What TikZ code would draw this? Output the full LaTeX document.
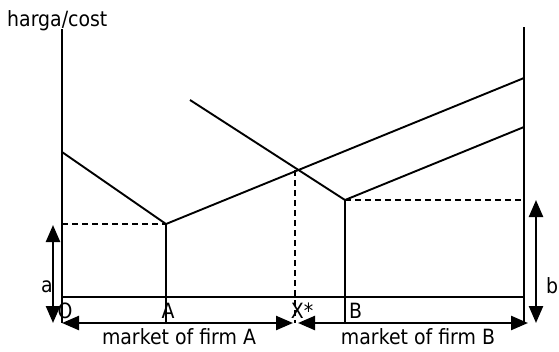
\documentclass[tikz,border=0pt]{standalone}
\usepackage{fontspec}
\setmainfont{DejaVu Sans}[FakeStretch=0.9]
\usetikzlibrary{arrows.meta}
\begin{document}
\begin{tikzpicture}[x=1pt,y=-1pt,
  ln/.style={line width=1.9pt},
  thin/.style={line width=1.5pt},
  dsh/.style={line width=1.6pt,dash pattern=on 6pt off 4pt},
  dbl/.style={line width=2.4pt,{Triangle[length=17pt,width=14pt]}-{Triangle[length=17pt,width=14pt]}},
  lbl/.style={inner sep=0pt,anchor=base,font=\fontsize{21}{24}\selectfont}]
\useasboundingbox (0,0) rectangle (559,351);
% coordinates
\coordinate (LT) at (62,29);
\coordinate (LB) at (62,323);
\coordinate (O) at (62,297);
\coordinate (RT) at (524,27);
\coordinate (RB) at (524,323);
\coordinate (R0) at (524,297);
\coordinate (As) at (62,152);
\coordinate (Ac) at (166,224);
\coordinate (Ae) at (524,78);
\coordinate (Ab) at (166,323);
\coordinate (Bs) at (190,100);
\coordinate (Bc) at (345,200);
\coordinate (Be) at (524,127);
\coordinate (Bb) at (345,323);
\coordinate (Xt) at (295,170);
\coordinate (Xb) at (295,323);
\coordinate (aL) at (62,224);
\coordinate (bR) at (524,200);
% axes
\draw[ln] (LT) -- (LB);
\draw[ln] (RT) -- (RB);
\draw[thin] (O) -- (R0);
% cost lines
\draw[ln] (As) -- (Ac) -- (Ae);
\draw[ln] (Bs) -- (Bc) -- (Be);
\draw[ln] (Ac) -- (Ab);
\draw[ln] (Bc) -- (Bb);
% dashed
\draw[dsh] (aL) -- (Ac);
\draw[dsh] (Bc) -- (bR);
\draw[dsh] (Xt) -- (Xb);
% arrows
\coordinate (mA1) at (62,323);
\coordinate (mA2) at (293,323);
\coordinate (mB1) at (298,323);
\coordinate (mB2) at (528,323);
\draw[dbl] (mA1) -- (mA2);
\draw[dbl] (mB1) -- (mB2);
\coordinate (a1) at (53,225);
\coordinate (a2) at (53,323);
\draw[dbl] (a1) -- (a2);
\coordinate (b1) at (536,200);
\coordinate (b2) at (536,323);
\draw[dbl] (b1) -- (b2);
% labels
\node[lbl,anchor=base west] (t1) at (7,26) {harga/cost};
\node[lbl] (tO) at (65,318) {O};
\node[lbl] (tA) at (168,318) {A};
\node[lbl] (tX) at (302,318) {X*};
\node[lbl,anchor=base west] (tB) at (349,318) {B};
\node[lbl] (ta) at (47,292) {a};
\node[lbl,anchor=base west] (tb) at (546,293) {b};
\node[lbl] (mA) at (179,344) {market of firm A};
\node[lbl] (mB) at (418,344) {market of firm B};
\end{tikzpicture}
\end{document}
